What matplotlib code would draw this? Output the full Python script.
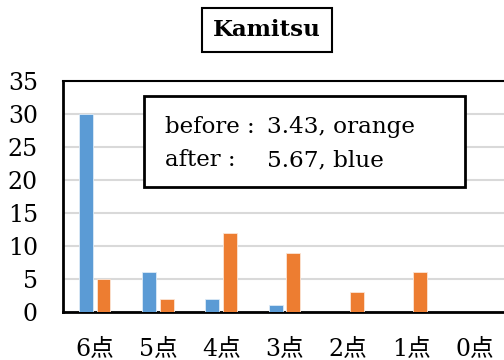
import matplotlib
matplotlib.use('Agg')
import matplotlib.pyplot as plt
import numpy as np
from matplotlib.patches import Rectangle

# Data
categories = ['6点', '5点', '4点', '3点', '2点', '1点', '0点']
after_blue = [30, 6, 2, 1, 0, 0, 0]
before_orange = [5, 2, 12, 9, 3, 6, 0]
y_ticks = [0, 5, 10, 15, 20, 25, 30, 35]
title = 'Kamitsu'
note_labels = ['before :', 'after :']
note_values = ['3.43, orange', '5.67, blue']

plt.rcParams['font.family'] = ['DejaVu Serif', 'Noto Sans CJK JP']

fig = plt.figure(figsize=(5.04, 3.6), dpi=100)
ax = fig.add_axes([63 / 504, 48 / 360, 443 / 504, 231 / 360])

x = np.arange(len(categories))
w = 0.22
ax.bar(x - 0.14, after_blue, width=w, color='#5B9BD5', edgecolor='#DDEBF7', linewidth=0.6, zorder=3)
ax.bar(x + 0.14, before_orange, width=w, color='#ED7D31', edgecolor='#FBE5D6', linewidth=0.6, zorder=3)

ax.set_xlim(-0.5, len(categories) - 0.5)
ax.set_ylim(0, 35)
ax.set_yticks(y_ticks)
ax.set_xticks(x)
ax.set_xticklabels(categories)
ax.tick_params(axis='both', length=0, labelsize=17)
ax.tick_params(axis='y', pad=18)
ax.tick_params(axis='x', pad=18)

ax.yaxis.grid(True, color='#D9D9D9', linewidth=1.5, zorder=0)
ax.set_axisbelow(True)
for s in ['left', 'bottom']:
    ax.spines[s].set_linewidth(2)
ax.spines['top'].set_linewidth(1.5)
ax.spines['right'].set_visible(False)

# title in a box
fig.text(267 / 504, 1 - 30 / 360, title, ha='center', va='center',
         fontsize=16.5, fontweight='bold',
         bbox=dict(boxstyle='square,pad=0.5', facecolor='white', edgecolor='black', linewidth=1.5))

# note box
fig.patches.append(Rectangle((144 / 504, 1 - 187 / 360), 321 / 504, 91 / 360,
                             transform=fig.transFigure, facecolor='white',
                             edgecolor='black', linewidth=2, zorder=5))
for i, (lab, val) in enumerate(zip(note_labels, note_values)):
    yy = 1 - (127 + 33 * i) / 360
    fig.text(165 / 504, yy, lab, ha='left', va='center', fontsize=16.5, zorder=6)
    fig.text(267 / 504, yy, val, ha='left', va='center', fontsize=16.7, zorder=6)

fig.savefig('out.png', dpi=100)
